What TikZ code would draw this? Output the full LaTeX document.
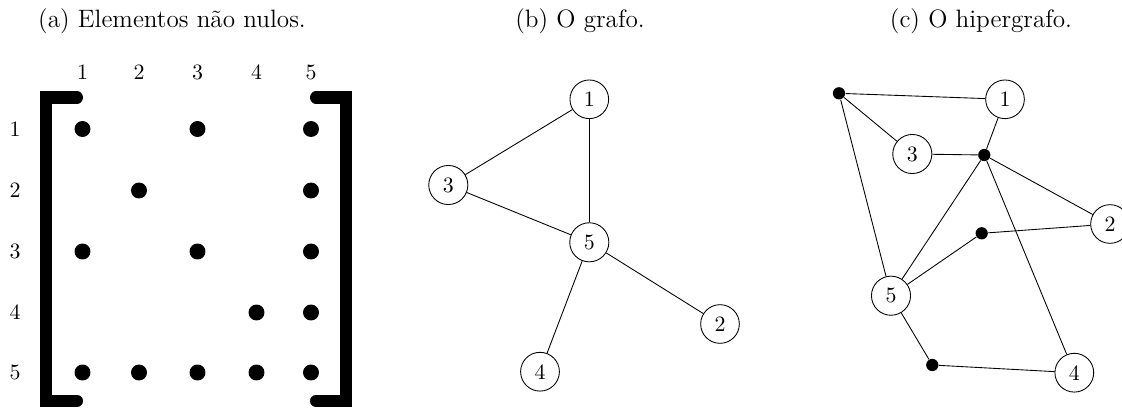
\documentclass[tikz,border=0pt]{standalone}
\usepackage{fontspec}
\begin{document}
\begin{tikzpicture}[x=0.457pt,y=-0.457pt,
  vtx/.style={draw,circle,inner sep=3.33pt,font=\normalsize},
  mdot/.style={fill,circle,inner sep=0pt,minimum size=7.3pt},
  hdot/.style={fill,circle,inner sep=0pt,minimum size=5.6pt},
  brk/.style={line width=5.5pt,line cap=round,line join=miter},
  edge/.style={line width=0.4pt},
  lbl/.style={font=\normalsize},
  captxt/.style={font=\fontsize{11.5}{14}\selectfont,anchor=base}]
\useasboundingbox (0,0) rectangle (1122,408);
% captions
\node[captxt] (capa) at (172,27) {(a) Elementos não nulos.};
\node[captxt] (capb) at (580,27) {(b) O grafo.};
\node[captxt] (capc) at (981,27) {(c) O hipergrafo.};
% matrix labels
\foreach \i/\x in {1/82.5,2/139,3/197.5,4/256.5,5/311}
  \node[lbl] (col\i) at (\x,72) {\i};
\foreach \i/\y in {1/129,2/190.5,3/251.5,4/312.5,5/372.5}
  \node[lbl] (row\i) at (15,\y) {\i};
% brackets
\draw[brk] (77,97.5) -- (46,97.5) -- (46,401) -- (77,401);
\draw[brk] (316,97.5) -- (346,97.5) -- (346,401) -- (316,401);
% dots
\foreach \c/\r [count=\k] in {1/1,3/1,5/1,2/2,5/2,1/3,3/3,5/3,4/4,5/4,1/5,2/5,3/5,4/5,5/5}{
  \node[mdot] (m\k) at (col\c |- row\r) {};
}
% graph b
\node[vtx] (b1) at (589.3,99.3) {1};
\node[vtx] (b3) at (448.3,185) {3};
\node[vtx] (b5) at (589.3,242.3) {5};
\node[vtx] (b2) at (720,324) {2};
\node[vtx] (b4) at (540,371.7) {4};
\draw[edge] (b1) -- (b3);
\draw[edge] (b1) -- (b5);
\draw[edge] (b3) -- (b5);
\draw[edge] (b5) -- (b2);
\draw[edge] (b5) -- (b4);
% hypergraph c
\node[hdot] (ha) at (839,93.3) {};
\node[hdot] (hb) at (984.3,155) {};
\node[hdot] (hc) at (981.7,233.3) {};
\node[hdot] (hd) at (932.3,365) {};
\node[vtx] (c1) at (1005,99.3) {1};
\node[vtx] (c3) at (912.3,154) {3};
\node[vtx] (c2) at (1110,224) {2};
\node[vtx] (c5) at (891,295.7) {5};
\node[vtx] (c4) at (1074.3,372.7) {4};
\draw[edge] (ha) -- (c1);
\draw[edge] (ha) -- (c3);
\draw[edge] (ha) -- (c5);
\draw[edge] (hb) -- (c1);
\draw[edge] (hb) -- (c3);
\draw[edge] (hb) -- (c2);
\draw[edge] (hb) -- (c5);
\draw[edge] (hb) -- (c4);
\draw[edge] (hc) -- (c2);
\draw[edge] (hc) -- (c5);
\draw[edge] (hd) -- (c5);
\draw[edge] (hd) -- (c4);
\end{tikzpicture}
\end{document}
